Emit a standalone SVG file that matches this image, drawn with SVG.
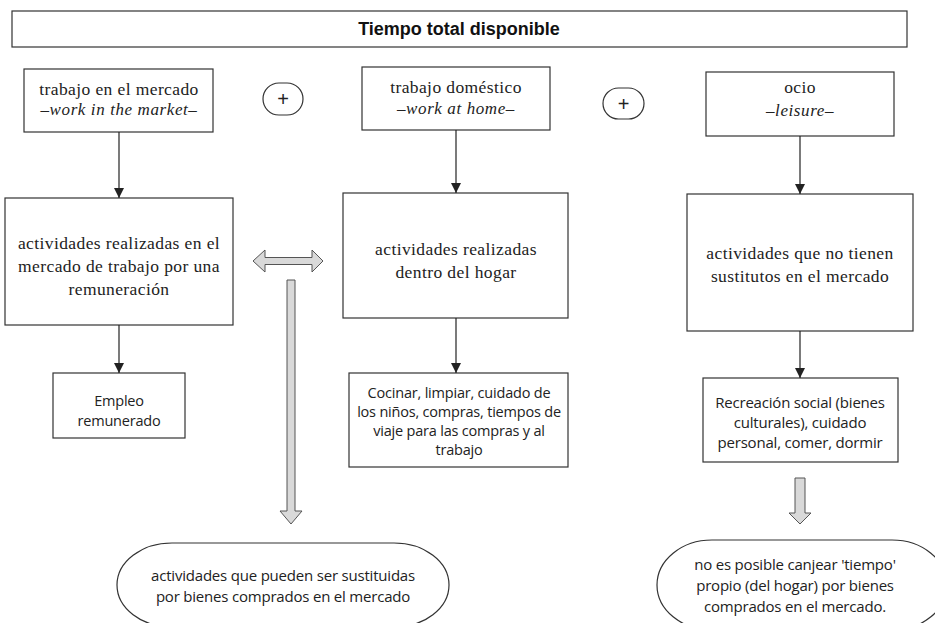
<svg xmlns="http://www.w3.org/2000/svg" width="935" height="623" viewBox="0 0 935 623">
<style>
  .box { fill: #ffffff; stroke: #333333; stroke-width: 1.2; }
  .serif { font-family: "Liberation Serif", "Times New Roman", serif; font-size: 17.5px; fill: #222222; text-anchor: middle; letter-spacing: 0.4px; }
  .ital { font-style: italic; font-size: 17px; letter-spacing: 0.6px; }
  .plus { font-family: "Liberation Sans", Arial, sans-serif; font-size: 20px; fill: #222222; text-anchor: middle; }
  .sans { font-family: "Open Sans", "Noto Sans", sans-serif; font-size: 14.5px; fill: #222222; text-anchor: middle; letter-spacing: -0.2px; }
  .big { font-size: 15px; }
  .title { font-family: "Liberation Sans", Arial, sans-serif; font-weight: bold; font-size: 18px; fill: #111111; text-anchor: middle; }
  .conn { stroke: #222222; stroke-width: 1.2; fill: none; }
  .block { fill: #d9d9d9; stroke: #555555; stroke-width: 1; }
</style>
<defs>
  <marker id="ah" viewBox="0 0 10 10" refX="10" refY="5" markerWidth="10" markerHeight="10" markerUnits="userSpaceOnUse" orient="auto">
    <path d="M0,0 L10,5 L0,10 Z" fill="#222222"/>
  </marker>
</defs>
<rect width="935" height="623" fill="#ffffff"/>

<g id="title">
  <rect class="box" x="12" y="11" width="895" height="36"/>
  <text class="title" x="459" y="35">Tiempo total disponible</text>
</g>

<g id="trabajo-mercado">
  <rect class="box" x="24" y="69" width="189" height="63"/>
  <text class="serif" x="119" y="95">trabajo en el mercado</text>
  <text class="serif ital" x="119" y="115">–work in the market–</text>
</g>

<g id="plus1">
  <rect class="box" x="263" y="83" width="40" height="32" rx="16" ry="16"/>
  <text class="plus" x="283" y="106">+</text>
</g>

<g id="trabajo-domestico">
  <rect class="box" x="362" y="67" width="188" height="63"/>
  <text class="serif" x="456" y="93">trabajo doméstico</text>
  <text class="serif ital" x="456" y="114">–work at home–</text>
</g>

<g id="plus2">
  <rect class="box" x="603" y="88" width="41" height="31" rx="15.5" ry="15.5"/>
  <text class="plus" x="623.5" y="110.5">+</text>
</g>

<g id="ocio">
  <rect class="box" x="706" y="72" width="188" height="64"/>
  <text class="serif" x="800" y="93">ocio</text>
  <text class="serif ital" x="800" y="116">–leisure–</text>
</g>

<g id="act-mercado">
  <rect class="box" x="5" y="198" width="228" height="127"/>
  <text class="serif" x="119" y="249">actividades realizadas en el</text>
  <text class="serif" x="119" y="272">mercado de trabajo por una</text>
  <text class="serif" x="119" y="295">remuneración</text>
</g>

<g id="act-hogar">
  <rect class="box" x="343" y="193" width="225" height="125"/>
  <text class="serif" x="456" y="255">actividades realizadas</text>
  <text class="serif" x="456" y="278">dentro del hogar</text>
</g>

<g id="act-sin-sustitutos">
  <rect class="box" x="687" y="194" width="226" height="137"/>
  <text class="serif" x="800" y="259">actividades que no tienen</text>
  <text class="serif" x="800" y="282">sustitutos en el mercado</text>
</g>

<g id="empleo">
  <rect class="box" x="53" y="373" width="132" height="65"/>
  <text class="sans" x="119" y="406">Empleo</text>
  <text class="sans" x="119" y="426">remunerado</text>
</g>

<g id="cocinar">
  <rect class="box" x="349" y="373" width="219" height="94"/>
  <text class="sans" x="459" y="398">Cocinar, limpiar, cuidado de</text>
  <text class="sans" x="459" y="417">los niños, compras, tiempos de</text>
  <text class="sans" x="459" y="436">viaje para las compras y al</text>
  <text class="sans" x="459" y="455">trabajo</text>
</g>

<g id="recreacion">
  <rect class="box" x="703" y="378" width="195" height="84"/>
  <text class="sans big" x="800" y="408">Recreación social (bienes</text>
  <text class="sans big" x="800" y="428">culturales), cuidado</text>
  <text class="sans big" x="800" y="448">personal, comer, dormir</text>
</g>

<g id="sustituibles">
  <rect class="box" x="117" y="543" width="332" height="84" rx="55" ry="42"/>
  <text class="sans big" x="283" y="581">actividades que pueden ser sustituidas</text>
  <text class="sans big" x="283" y="602">por bienes comprados en el mercado</text>
</g>

<g id="no-canjeable">
  <rect class="box" x="657" y="540" width="290" height="90" rx="55" ry="45"/>
  <text class="sans big" x="795" y="570">no es posible canjear 'tiempo'</text>
  <text class="sans big" x="795" y="591">propio (del hogar) por bienes</text>
  <text class="sans big" x="795" y="612">comprados en el mercado.</text>
</g>

<g id="connectors">
  <line class="conn" x1="119" y1="132" x2="119" y2="198" marker-end="url(#ah)"/>
  <line class="conn" x1="456" y1="130" x2="456" y2="193" marker-end="url(#ah)"/>
  <line class="conn" x1="800" y1="136" x2="800" y2="194" marker-end="url(#ah)"/>
  <line class="conn" x1="119" y1="325" x2="119" y2="373" marker-end="url(#ah)"/>
  <line class="conn" x1="456" y1="318" x2="456" y2="373" marker-end="url(#ah)"/>
  <line class="conn" x1="800" y1="331" x2="800" y2="378" marker-end="url(#ah)"/>
  <polygon class="block" points="253,261 265,250 265,257.5 312,257.5 312,250 323,261 312,272 312,264.5 265,264.5 265,272"/>
  <polygon class="block" points="287,280 295,280 295,511 302,511 291,524 280,511 287,511"/>
  <polygon class="block" points="795,478 805,478 805,513 811,513 800,524 789,513 795,513"/>
</g>
</svg>
